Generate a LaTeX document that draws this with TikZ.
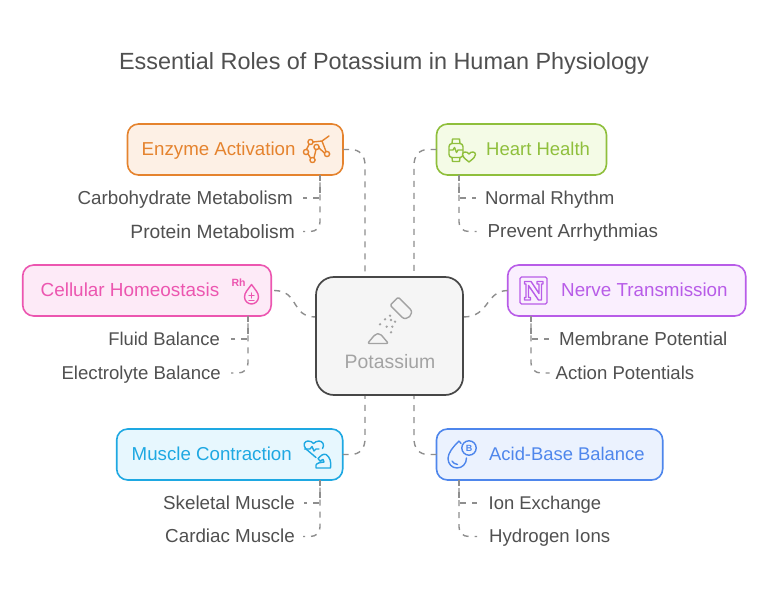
\documentclass[tikz,border=0pt]{standalone}
\usepackage{fontspec}
\setmainfont{Liberation Sans}
\definecolor{txt}{HTML}{505050}
\definecolor{conn}{HTML}{8E8E8E}
\definecolor{grayt}{HTML}{A3A3A3}
\definecolor{cO}{HTML}{E5832E}\definecolor{fO}{HTML}{FDF0E5}
\definecolor{cG}{HTML}{8FBF3C}\definecolor{fG}{HTML}{F4FBE6}
\definecolor{cP}{HTML}{EC56B0}\definecolor{fP}{HTML}{FDEAF7}
\definecolor{cV}{HTML}{B85CE8}\definecolor{fV}{HTML}{FAEFFE}
\definecolor{cB}{HTML}{1EA8E2}\definecolor{fB}{HTML}{E7F7FE}
\definecolor{cI}{HTML}{4E86EC}\definecolor{fI}{HTML}{EBF2FE}
\tikzset{
 x=1pt,y=-1pt,
 role/.style={draw=#1,line width=1.6pt,rounded corners=11pt,anchor=north west,inner sep=0pt,outer sep=0pt},
 rolelabel/.style={font=\fontsize{18.8}{20}\selectfont,text=#1,inner sep=0pt},
 sublabel/.style={font=\fontsize{18.8}{20}\selectfont,text=txt,inner sep=0pt},
 link/.style={draw=conn,line width=1.4pt,dash pattern=on 6pt off 6pt},
 icon/.style={draw=#1,line width=1.4pt,line join=round,line cap=round},
}
\newcommand{\rolebox}[7]{\node[role=#6,fill=#7,minimum width=#4pt,minimum height=#5pt] (#1) at (#2,#3) {};}
\newcommand{\subR}[4]{\node[sublabel,anchor=east] (#1) at (#2,#3) {\vphantom{Ay}#4};}
\newcommand{\subL}[4]{\node[sublabel,anchor=west] (#1) at (#2,#3) {\vphantom{Ay}#4};}
\newcommand{\fs}[1]{\fontsize{#1}{20}\selectfont}
\begin{document}
\begin{tikzpicture}
\useasboundingbox (0,0) rectangle (768,593);
\fill[white] (0,0) rectangle (768,593);
\node[font=\fontsize{23.42}{26}\selectfont,text=txt,inner sep=0pt] (title) at (384,63) {Essential Roles of Potassium in Human Physiology};

\node[anchor=north west,minimum width=147pt,minimum height=118pt,inner sep=0pt,outer sep=0pt] (k) at (316,277) {};
\coordinate (kTL) at (365,277);
\coordinate (kTR) at (414,277);
\coordinate (kBL) at (365,395);
\coordinate (kBR) at (414,395);
\coordinate (kW) at (316,317);
\coordinate (kE) at (463,317);

\rolebox{enz}{127.5}{124}{215.5}{51}{cO}{fO}
\rolebox{hrt}{436.5}{124}{170}{51}{cG}{fG}
\rolebox{cel}{22.7}{265}{248.5}{51}{cP}{fP}
\rolebox{nrv}{507.7}{265}{238}{51}{cV}{fV}
\rolebox{mus}{116.7}{429}{226}{51}{cB}{fB}
\rolebox{aci}{436.5}{429}{226.2}{51}{cI}{fI}

% main connectors
\path[link] (enz.east) -- (351,149.5) .. controls (360,149.5) and (365,156) .. (365,165) -- (kTL);
\path[link] (hrt.west) -- (428,149.5) .. controls (419,149.5) and (414,156) .. (414,165) -- (kTR);
\path[link] (cel.east) ++(3,0) .. controls (300,291) and (290,317) .. (kW);
\path[link] (nrv.west) .. controls (485,291) and (490,317) .. (kE);
\path[link] (mus.east) -- (351,454.5) .. controls (360,454.5) and (365,448) .. (365,439) -- (kBL);
\path[link] (aci.west) -- (428,454.5) .. controls (419,454.5) and (414,448) .. (414,439) -- (kBR);

% labels
\subR{s1}{293}{199.5}{Carbohydrate Metabolism}
\subR{s2}{295}{233}{\fs{19.2}Protein Metabolism}
\subL{s3}{485}{199.5}{\fs{18.6}Normal Rhythm}
\subL{s4}{487.5}{233}{Prevent Arrhythmias}
\subR{s5}{220}{340.5}{\fs{18.4}Fluid Balance}
\subR{s6}{221}{374.5}{\fs{18.6}Electrolyte Balance}
\subL{s7}{559}{340.5}{Membrane Potential}
\subL{s8}{555.5}{374.5}{\fs{18.6}Action Potentials}
\subR{s9}{295}{504.5}{Skeletal Muscle}
\subR{s10}{295}{538}{Cardiac Muscle}
\subL{s11}{488.5}{504.5}{\fs{18.4}Ion Exchange}
\subL{s12}{489}{538}{\fs{18.6}Hydrogen Ions}

% branch connectors
\coordinate (a1) at (320,175);
\coordinate (a2) at (459,175);
\coordinate (a3) at (248,316);
\coordinate (a4) at (531,316);
\coordinate (a5) at (320,480);
\coordinate (a6) at (459,480);
\path[link,shorten >=10pt] (a1) -- (320,198) -- (s1.east |- 0,198);
\path[link,shorten >=8pt,dash phase=4.5pt] (a1) -- (320,222) .. controls (320,228) and (316,231.5) .. (310,231.5) -- (s2.east |- 0,231.5);
\path[link,shorten >=9pt] (a2) -- (459,198) -- (s3.west |- 0,198);
\path[link,shorten >=11pt,dash phase=4pt] (a2) -- (459,222) .. controls (459,228) and (463,231.5) .. (469,231.5) -- (s4.west |- 0,231.5);
\path[link,shorten >=11pt] (a3) -- (248,339) -- (s5.east |- 0,339);
\path[link,shorten >=10pt,dash phase=4.5pt] (a3) -- (248,363) .. controls (248,369) and (244,373) .. (238,373) -- (s6.east |- 0,373);
\path[link,shorten >=10pt] (a4) -- (531,339) -- (s7.west |- 0,339);
\path[link,shorten >=6pt,dash phase=4.5pt] (a4) -- (531,363) .. controls (531,369) and (535,373) .. (541,373) -- (s8.west |- 0,373);
\path[link,shorten >=9pt] (a5) -- (320,503) -- (s9.east |- 0,503);
\path[link,shorten >=8pt,dash phase=4.5pt] (a5) -- (320,527) .. controls (320,533) and (316,536.5) .. (310,536.5) -- (s10.east |- 0,536.5);
\path[link,shorten >=12pt] (a6) -- (459,503) -- (s11.west |- 0,503);
\path[link,shorten >=12pt,dash phase=4pt] (a6) -- (459,527) .. controls (459,533) and (463,536.5) .. (469,536.5) -- (s12.west |- 0,536.5);

% role boxes text
\node[rolelabel=cO,anchor=west] (l1) at (141.5,151) {\vphantom{Ay}\fs{18.7}Enzyme Activation};
\node[rolelabel=cG,anchor=west] (l2) at (486,151) {\vphantom{Ay}\fs{18.5}Heart Health};
\node[rolelabel=cP,anchor=west] (l3) at (40.5,292) {\vphantom{Ay}\fs{18.9}Cellular Homeostasis};
\node[rolelabel=cV,anchor=west] (l4) at (561,292) {\vphantom{Ay}Nerve Transmission};
\node[rolelabel=cB,anchor=west] (l5) at (131.5,456) {\vphantom{Ay}\fs{18.7}Muscle Contraction};
\node[rolelabel=cI,anchor=west] (l6) at (489,456) {\vphantom{Ay}\fs{18.4}Acid-Base Balance};

% centre
\draw[draw=black!72,fill=black!4,line width=1.7pt,rounded corners=18pt] (316,277) rectangle (463,395);
\node[font=\fontsize{19.4}{21}\selectfont,text=grayt,inner sep=0pt] (kl) at (390,363) {\vphantom{Ay}Potassium};
% potassium icon
\begin{scope}[icon=grayt]
 \draw[rotate around={-45:(402,309)},rounded corners=1.5pt] (391,303.2) -- (406,303.2) .. controls (414.5,303.2) and (414.5,314.8) .. (406,314.8) -- (391,314.8) -- cycle;
 \draw[rounded corners=2pt] (367.5,343.5) -- (375.5,334) -- (380,333.5) -- (388.5,343.5) -- cycle;
 \foreach \p in {(380,324.3),(385,319.3),(390,315.7),(391,320),(395,321.7),(386.7,326.7),(392.3,326.7),(391,332.3)}
   \fill[grayt] \p circle (1.3);
\end{scope}

% enzyme icon
\begin{scope}[icon=cO]
 \draw (310.5,142) circle (2.6) (306,152) circle (2.6) (312.5,160) circle (2.6) (316.5,147) circle (2.6) (327,154) circle (2.6);
 \draw (313,142) -- (322,141) -- (329,136) (322,141) -- (326,151.5);
 \draw (309,144.5) -- (306.5,149.5) (308,153.8) -- (310.5,158) (314,157.8) -- (316,149.5) (319,148) -- (324.5,153);
\end{scope}
% heart icon
\begin{scope}[icon=cG]
 \draw[rounded corners=3pt] (449,143.5) rectangle (463,157.5);
 \draw (452,143.5) -- (452.5,139) -- (459.5,139) -- (460,143.5) (452,157.5) -- (452.5,161.5) -- (459.5,161.5) -- (460,157.5);
 \draw (449.5,150) -- (453,150) -- (454.5,147.5) -- (456.5,152.5) -- (458,150) -- (462.5,150);
 \draw[fill=fG] (469,162) .. controls (464,158) and (462.5,156.5) .. (462.5,154.5) .. controls (462.5,151.5) and (467,151) .. (469,154) .. controls (471,151) and (475.5,151.5) .. (475.5,154.5) .. controls (475.5,156.5) and (474,158) .. (469,162) -- cycle;
\end{scope}
% Rh icon
\node[font=\bfseries\fontsize{10.5}{11}\selectfont,text=cP,inner sep=0pt] (rh) at (238.5,282.5) {Rh};
\begin{scope}[icon=cP]
 \draw (251.5,284.5) .. controls (248,289.5) and (244.5,292.5) .. (244.5,297) .. controls (244.5,301) and (248,304) .. (251.5,304) .. controls (255,304) and (258.5,301) .. (258.5,297) .. controls (258.5,292.5) and (255,289.5) .. (251.5,284.5) -- cycle;
 \draw (249,295.5) -- (254,295.5) (251.5,293) -- (251.5,298) (249,300.5) -- (254,300.5);
\end{scope}
% N icon
\begin{scope}[icon=cV]
 \draw[rounded corners=1.5pt] (520,277) rectangle (547,304);
 \draw (524.5,281.5) -- (531,281.5) -- (539,293.5) -- (539,284) -- (537,284) -- (537,281.5) -- (543,281.5) -- (543,284) -- (541.5,284) -- (541.5,300) -- (538.5,300) -- (528.5,285.5) -- (528.5,297.5) -- (530.5,297.5) -- (530.5,300) -- (524.5,300) -- (524.5,297.5) -- (526,297.5) -- (526,284) -- (524.5,284) -- cycle;
\end{scope}
% muscle icon
\begin{scope}[icon=cB]
 \draw (316,457.5) -- (306,449) .. controls (302,444.5) and (305,441) .. (308,441) .. controls (310.5,441) and (312.5,442) .. (313.5,443.5) .. controls (315,442) and (317,441) .. (319,441) .. controls (322.5,441) and (325,445) .. (322.5,448.5);
 \draw (304.5,449) -- (310,449) -- (312,446.5) -- (314,451) -- (316,449) -- (319,449);
 \draw (316,468) -- (330.5,468) .. controls (331.5,462) and (330,457) .. (326,454.5) .. controls (323,453.5) and (320,456) .. (318,458.5) -- (320,461) -- (323,459.5) -- (324,462) .. controls (321,462) and (317,463) .. (316,465) -- cycle;
\end{scope}
% acid icon
\begin{scope}[icon=cI]
 \draw (459,441) .. controls (453,447) and (448,453) .. (448,458.5) .. controls (448,464) and (452,468) .. (457,468) .. controls (462,468) and (466.5,464) .. (466.5,458) (459,441) -- (461,443.5);
 \draw (452,461) .. controls (453,463) and (455,464) .. (457.5,464.5);
 \draw (469,448) circle (7.2);
 \node[font=\bfseries\fontsize{9}{10}\selectfont,text=cI,inner sep=0pt] (bb) at (469,448) {B};
\end{scope}
\end{tikzpicture}
\end{document}
